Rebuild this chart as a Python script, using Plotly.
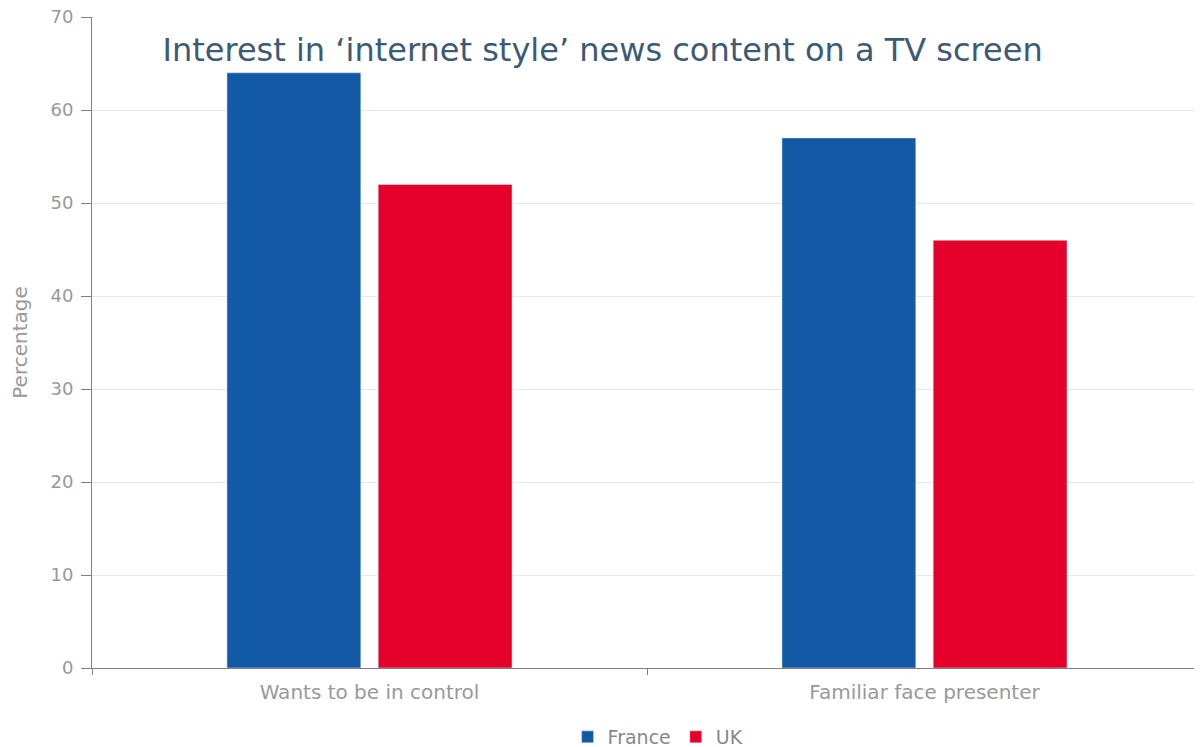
import plotly.graph_objects as go

categories = ["Wants to be in control", "Familiar face presenter"]
france = [64, 57]
uk = [52, 46]

fig = go.Figure()
fig.add_trace(go.Bar(name="France", x=categories, y=france, marker_color="#1259a6"))
fig.add_trace(go.Bar(name="UK", x=categories, y=uk, marker_color="#e4002b"))

fig.update_layout(
    width=1194, height=739,
    barmode="group", bargap=0.455, bargroupgap=0.115,
    margin=dict(l=84, r=0, t=9, b=79, autoexpand=False),
    plot_bgcolor="white", paper_bgcolor="white",
    font=dict(family="DejaVu Sans", color="#888888", size=14),
    title=dict(text="Interest in ‘internet style’ news content on a TV screen",
               x=0.498, xanchor="center", y=0.943, yanchor="middle",
               font=dict(size=32, color="#3d5a75", family="DejaVu Sans")),
    legend=dict(orientation="h", x=0.51, xanchor="center", y=-0.106, yanchor="middle",
                font=dict(size=19, color="#888888")),
    showlegend=True,
)
fig.update_yaxes(range=[0, 70], dtick=10, showgrid=True, gridcolor="#e8e8e8",
                 showline=True, linecolor="#808080", linewidth=1,
                 ticks="outside", ticklen=10, tickcolor="#808080",
                 ticklabeloverflow="allow", ticklabelstandoff=4,
                 title=dict(text="Percentage", font=dict(size=20, color="#999999"), standoff=22),
                 tickfont=dict(size=18, color="#999999"), zeroline=False)
fig.update_xaxes(showline=True, linecolor="#808080", linewidth=1,
                 ticks="outside", tickson="boundaries", ticklen=6, tickcolor="#808080",
                 ticklabelstandoff=6,
                 tickfont=dict(size=20, color="#999999"))

fig.write_html("out.html")
